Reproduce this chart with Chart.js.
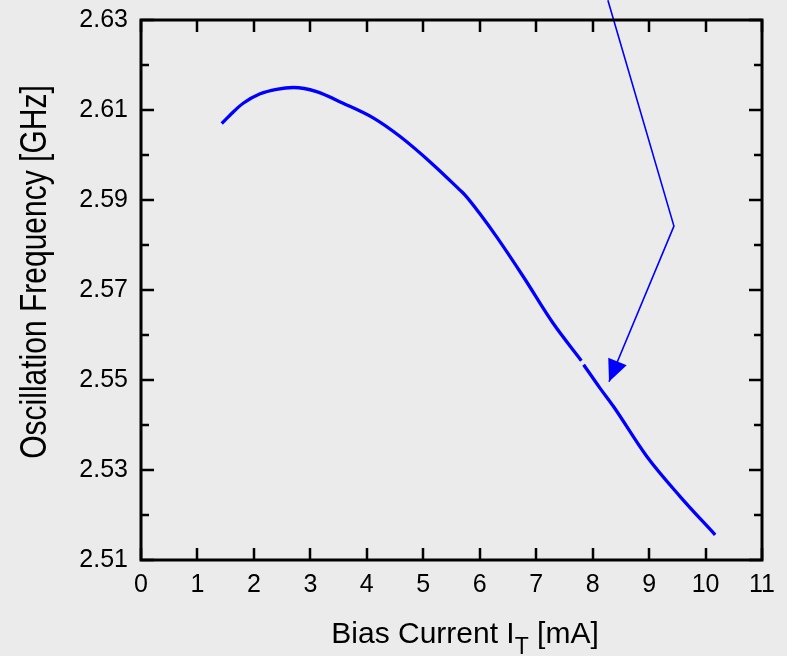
<!DOCTYPE html>
<html lang="en">
<head>
<meta charset="utf-8">
<title>Oscillation frequency vs bias current</title>
<script src="https://cdn.jsdelivr.net/npm/chart.js@4.4.1/dist/chart.umd.min.js"></script>
<style>
  html, body { margin: 0; padding: 0; background: #ebebeb; }
  #wrap { position: relative; width: 787px; height: 656px; }
</style>
</head>
<body>
<div id="wrap"><canvas id="osc"></canvas></div>
<script>
// measured curve, split in two pieces (small gap near 7.8 mA)
var currentA = [1.43, 1.62, 1.81, 2.11, 2.40, 2.70, 3.11, 3.58, 4.12, 4.59, 5.18, 5.65, 5.74, 6.00, 6.30, 6.77, 7.30, 7.80];
var freqA    = [2.6070, 2.6094, 2.6115, 2.6136, 2.6146, 2.6150, 2.6141, 2.6115, 2.6082, 2.6041, 2.5978, 2.5922, 2.5911, 2.5870, 2.5818, 2.5730, 2.5626, 2.5543];
var currentB = [7.84, 8.13, 8.37, 8.96, 9.55, 10.17];
var freqB    = [2.5534, 2.5482, 2.5441, 2.5330, 2.5241, 2.5156];

// annotation arrow (enters from the top, bends, points to the curve)
var arrowX = [8.27, 9.44, 8.29];
var arrowY = [2.6344, 2.5842, 2.5496];

var xMin = 0, xMax = 11;
var yMin = 2.51, yMax = 2.63;

function pts(xs, ys) {
  return xs.map(function (x, i) { return { x: x, y: ys[i] }; });
}

var FONT = 'Liberation Sans, Arial, Helvetica, sans-serif';

var frame = {
  id: 'frame',
  afterDraw: function (chart) {
    var c = chart.ctx, a = chart.chartArea;
    var xs = chart.scales.x, ys = chart.scales.y;
    c.save();
    c.strokeStyle = '#000';
    c.lineWidth = 2.5;
    c.beginPath();
    xs.ticks.forEach(function (t) {
      var px = Math.round(xs.getPixelForValue(t.value));
      c.moveTo(px, a.bottom); c.lineTo(px, a.bottom - 12);
      c.moveTo(px, a.top); c.lineTo(px, a.top + 12);
    });
    ys.ticks.forEach(function (t) {
      var py = Math.round(ys.getPixelForValue(t.value));
      var len = (Math.round(t.value * 100) % 2 === 1) ? 13 : 8;
      c.moveTo(a.left, py); c.lineTo(a.left + len, py);
      c.moveTo(a.right, py); c.lineTo(a.right - len, py);
    });
    c.stroke();
    c.lineWidth = 3;
    c.strokeRect(a.left, a.top, a.right - a.left, a.bottom - a.top);

    // axis titles
    c.fillStyle = '#000';
    c.textBaseline = 'alphabetic';
    c.font = '30px ' + FONT;
    var p1 = 'Bias Current I', p2 = 'T', p3 = ' [mA]';
    var w1 = c.measureText(p1).width, w3 = c.measureText(p3).width;
    c.font = '23px ' + FONT;
    var w2 = c.measureText(p2).width;
    var x0 = 465 - (w1 + w2 + w3) / 2, base = 643;
    c.font = '30px ' + FONT;
    c.textAlign = 'left';
    c.fillText(p1, x0, base);
    c.font = '23px ' + FONT;
    c.fillText(p2, x0 + w1, base + 11);
    c.font = '30px ' + FONT;
    c.fillText(p3, x0 + w1 + w2, base);

    c.translate(46, 272);
    c.rotate(-Math.PI / 2);
    c.scale(1, 1.25);
    c.textAlign = 'center';
    c.fillText('Oscillation Frequency [GHz]', 0, 0);
    c.restore();
  }
};

var arrowHead = {
  id: 'arrowHead',
  afterDatasetsDraw: function (chart) {
    var meta = chart.getDatasetMeta(2);
    var n = meta.data.length;
    var tip = meta.data[n - 1], prev = meta.data[n - 2];
    var ang = Math.atan2(tip.y - prev.y, tip.x - prev.x);
    var c = chart.ctx, L = 22, W = 10;
    c.save();
    c.translate(tip.x, tip.y);
    c.rotate(ang);
    c.fillStyle = '#0000ff';
    c.beginPath();
    c.moveTo(0, 0);
    c.lineTo(-L, -W);
    c.lineTo(-L, W);
    c.closePath();
    c.fill();
    c.restore();
  }
};

new Chart(document.getElementById('osc').getContext('2d'), {
  type: 'line',
  data: {
    datasets: [
      { data: pts(currentA, freqA), borderColor: '#0000ff', borderWidth: 3.3, pointRadius: 0, cubicInterpolationMode: 'monotone' },
      { data: pts(currentB, freqB), borderColor: '#0000ff', borderWidth: 3.3, pointRadius: 0, cubicInterpolationMode: 'monotone' },
      { data: pts(arrowX, arrowY), borderColor: '#0000ff', borderWidth: 1.6, pointRadius: 0, tension: 0, clip: false }
    ]
  },
  plugins: [frame, arrowHead],
  options: {
    responsive: true,
    maintainAspectRatio: false,
    animation: false,
    events: [],
    layout: { padding: { left: 0, right: 25, top: 20, bottom: 0 } },
    plugins: { legend: { display: false }, tooltip: { enabled: false } },
    scales: {
      x: {
        type: 'linear', min: xMin, max: xMax,
        grid: { display: false, drawTicks: false },
        border: { display: false },
        ticks: { stepSize: 1, padding: 10, color: '#000', font: { family: FONT, size: 25 } },
        afterFit: function (s) { s.height = 96; s.paddingLeft = 0; s.paddingRight = 0; }
      },
      y: {
        type: 'linear', min: yMin, max: yMax,
        grid: { display: false, drawTicks: false },
        border: { display: false },
        ticks: {
          stepSize: 0.01, padding: 13, color: '#000', font: { family: FONT, size: 25 },
          callback: function (v) { return (Math.round(v * 100) % 2 === 1) ? v.toFixed(2) : ''; }
        },
        afterFit: function (s) { s.width = 141; s.paddingTop = 0; s.paddingBottom = 0; }
      }
    }
  }
});
</script>
</body>
</html>
